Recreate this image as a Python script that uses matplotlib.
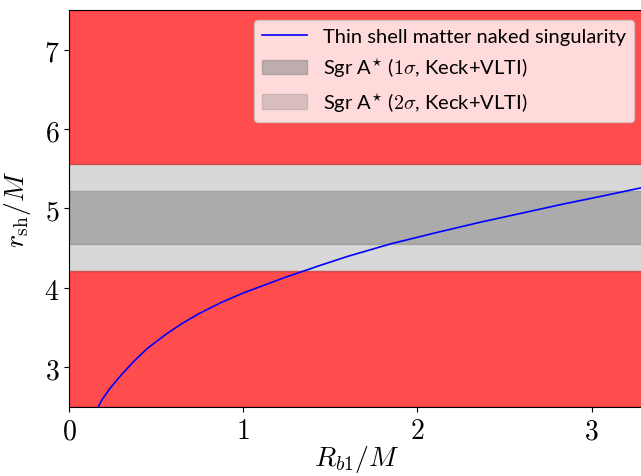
import matplotlib
matplotlib.use("Agg")
import matplotlib.pyplot as plt
from matplotlib.ticker import FuncFormatter

plt.rcParams['mathtext.fontset'] = 'cm'

# Curve: thin shell matter naked singularity
rb1 = [0.168, 0.19, 0.235, 0.29, 0.369, 0.45, 0.561, 0.65, 0.752, 0.87,
       1.0, 1.23, 1.44, 1.6, 1.842, 2.1, 2.358, 2.6, 2.836, 3.05, 3.276, 3.32]
rsh = [2.50, 2.59, 2.73, 2.875, 3.065, 3.235, 3.42, 3.55, 3.68, 3.81,
       3.933, 4.122, 4.28, 4.395, 4.55, 4.69, 4.824, 4.94, 5.054, 5.15, 5.255, 5.275]

# Sgr A* constraints (Keck+VLTI)
sigma1 = (4.55, 5.22)
sigma2 = (4.21, 5.56)
ylim = (2.5, 7.5)
xlim = (0, 3.3)
xticks = [0, 1, 2, 3]
yticks = [3, 4, 5, 6, 7]

labels = ["Thin shell matter naked singularity",
          r"Sgr A$^{\star}$ ($1\sigma$, Keck+VLTI)",
          r"Sgr A$^{\star}$ ($2\sigma$, Keck+VLTI)"]

fig = plt.figure(figsize=(6.41, 4.77), dpi=100)
ax = fig.add_axes([69/641, 1-407.7/477, (644-69)/641, (407.7-11)/477])

ax.axhspan(ylim[0], sigma2[0], color='red', alpha=0.7)
ax.axhspan(sigma2[1], ylim[1], color='red', alpha=0.7)
l1, = ax.plot(rb1, rsh, color='blue', lw=1.2, label=labels[0])
p1 = ax.axhspan(sigma1[0], sigma1[1], color='gray', alpha=0.5, label=labels[1])
p2 = ax.axhspan(sigma2[0], sigma2[1], color='gray', alpha=0.3, label=labels[2])

ax.set_xlim(*xlim)
ax.set_ylim(*ylim)
ax.set_xticks(xticks)
ax.set_yticks(yticks)
fmt = FuncFormatter(lambda v, p: r"$%d$" % v)
ax.xaxis.set_major_formatter(fmt)
ax.yaxis.set_major_formatter(fmt)
ax.tick_params(labelsize=20)
ax.set_xlabel(r"$R_{b1}/M$", fontsize=20, labelpad=-1)
ax.set_ylabel(r"$r_{\rm sh}/M$", fontsize=20, labelpad=8)

ax.legend(handles=[l1, p1, p2], loc='upper right', labelspacing=0.55,
          handlelength=2.2, prop={'family': 'Lato', 'size': 14.5})

fig.savefig("out.png", dpi=100)
